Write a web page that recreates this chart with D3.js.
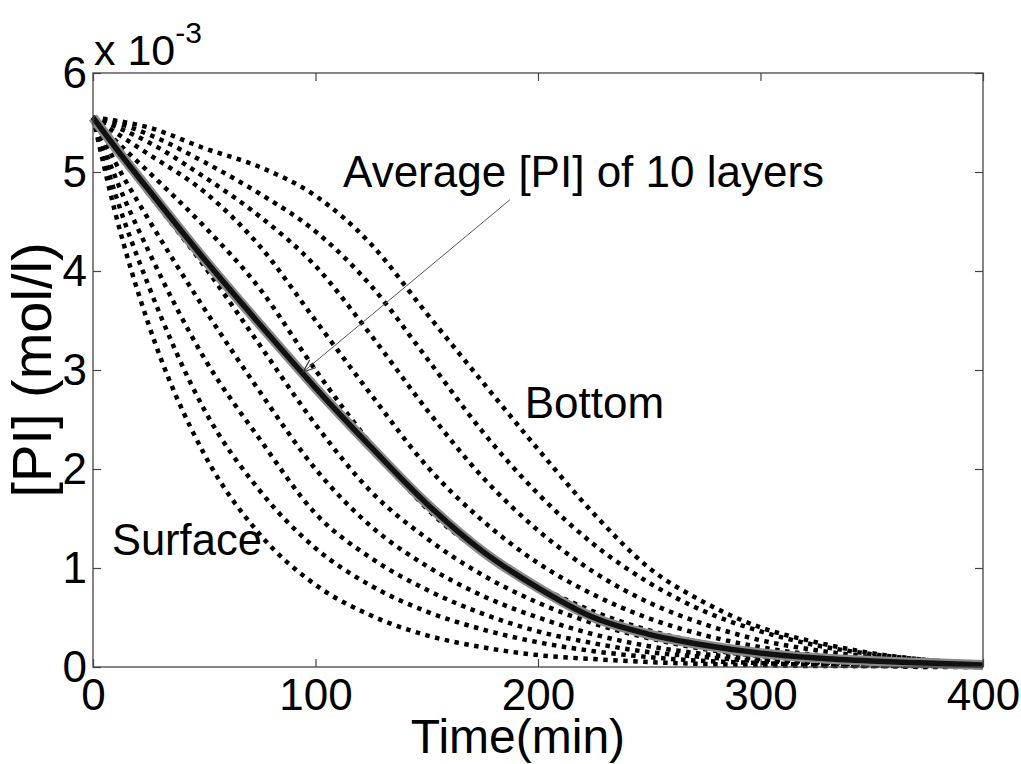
<!DOCTYPE html>
<html>
<head>
<meta charset="utf-8">
<script src="https://cdn.jsdelivr.net/npm/d3@7"></script>
<style>
  body { margin: 0; background: #fff; overflow: hidden; }
  text { font-family: "Liberation Sans", Arial, sans-serif; fill: #000; }
</style>
</head>
<body>
<div id="my_dataviz"></div>
<script>
// time points (min) and [PI] values in units of 10^-3 mol/l
var times = [0, 10, 25, 50, 75, 100, 125, 150, 175, 200, 225, 250, 275, 300, 325, 350, 375, 400];

var layer1  = [5.55, 4.59, 3.46, 2.15, 1.34, 0.83, 0.52, 0.32, 0.20, 0.12, 0.08, 0.05, 0.03, 0.02, 0.01, 0.01, 0.00, 0.00];
var layer2  = [5.55, 4.78, 3.85, 2.60, 1.78, 1.20, 0.82, 0.56, 0.38, 0.25, 0.16, 0.10, 0.06, 0.04, 0.02, 0.01, 0.01, 0.00];
var layer3  = [5.55, 4.95, 4.20, 3.12, 2.30, 1.55, 1.10, 0.78, 0.54, 0.36, 0.24, 0.15, 0.10, 0.06, 0.04, 0.02, 0.01, 0.01];
var layer4  = [5.55, 5.10, 4.52, 3.62, 2.78, 2.00, 1.42, 1.02, 0.72, 0.50, 0.33, 0.21, 0.13, 0.08, 0.05, 0.03, 0.02, 0.01];
var layer5  = [5.55, 5.22, 4.78, 4.05, 3.25, 2.45, 1.77, 1.30, 0.93, 0.65, 0.44, 0.29, 0.18, 0.11, 0.07, 0.04, 0.02, 0.01];
var layer6  = [5.55, 5.32, 5.00, 4.45, 3.82, 3.00, 2.25, 1.60, 1.15, 0.82, 0.56, 0.37, 0.24, 0.15, 0.09, 0.05, 0.03, 0.02];
var layer7  = [5.55, 5.40, 5.18, 4.80, 4.25, 3.50, 2.75, 2.03, 1.48, 1.05, 0.73, 0.49, 0.32, 0.20, 0.12, 0.07, 0.04, 0.02];
var layer8  = [5.55, 5.46, 5.30, 4.95, 4.55, 4.05, 3.35, 2.60, 1.92, 1.38, 0.96, 0.65, 0.43, 0.27, 0.17, 0.10, 0.05, 0.03];
var layer9  = [5.55, 5.50, 5.38, 5.10, 4.78, 4.40, 3.85, 3.12, 2.38, 1.75, 1.24, 0.85, 0.56, 0.36, 0.22, 0.13, 0.07, 0.03];
var layer10 = [5.55, 5.52, 5.45, 5.24, 5.05, 4.76, 4.27, 3.57, 2.88, 2.20, 1.55, 1.00, 0.65, 0.40, 0.25, 0.14, 0.07, 0.03];
var average = [5.55, 5.25, 4.82, 4.12, 3.46, 2.82, 2.22, 1.65, 1.17, 0.80, 0.50, 0.33, 0.22, 0.14, 0.09, 0.06, 0.04, 0.02];

var layers = [layer1, layer2, layer3, layer4, layer5, layer6, layer7, layer8, layer9, layer10];

var xTicks = [0, 100, 200, 300, 400];
var yTicks = [0, 1, 2, 3, 4, 5, 6];

var margin = {
  top: 73,
  right: 38,
  bottom: 97,
  left: 93
},
width = 1021 - margin.left - margin.right,
height = 764 - margin.top - margin.bottom;

var root = d3.select("#my_dataviz")
  .append("svg")
  .attr("width", width + margin.left + margin.right)
  .attr("height", height + margin.top + margin.bottom);

var svg = root.append("g")
  .attr("transform", "translate(" + margin.left + "," + margin.top + ")");

var x = d3.scaleLinear().domain([0, 400]).range([0, width]);
var y = d3.scaleLinear().domain([0, 6]).range([height, 0]);

var line = d3.line()
  .x(function (d, i) { return x(times[i]); })
  .y(function (d) { return y(d); })
  .curve(d3.curveMonotoneX);

// dotted layer curves
svg.append("g")
  .selectAll("path")
  .data(layers)
  .enter().append("path")
  .attr("d", line)
  .attr("fill", "none")
  .attr("stroke", "#000")
  .attr("stroke-width", 4.5)
  .attr("stroke-dasharray", "4.5,5.5");

// average curve, thick with grey halo
svg.append("path")
  .attr("d", line(average))
  .attr("fill", "none")
  .attr("stroke", "#8a8a8a")
  .attr("stroke-width", 10);
svg.append("path")
  .attr("d", line(average))
  .attr("fill", "none")
  .attr("stroke", "#111")
  .attr("stroke-width", 5.5);

// axes box with inward ticks
var fontTick = "44px";

svg.append("g")
  .attr("transform", "translate(0," + height + ")")
  .call(d3.axisBottom(x).tickValues(xTicks).tickSizeInner(-8).tickSizeOuter(0).tickPadding(12))
  .call(function (g) {
    g.selectAll("text").style("font-size", fontTick).style("font-family", "Liberation Sans, Arial, sans-serif");
  });
svg.append("g")
  .call(d3.axisTop(x).tickValues(xTicks).tickSizeInner(-8).tickSizeOuter(0).tickFormat(""));
svg.append("g")
  .call(d3.axisLeft(y).tickValues(yTicks).tickSizeInner(-8).tickSizeOuter(0).tickPadding(6).tickFormat(d3.format("d")))
  .call(function (g) {
    g.selectAll("text").style("font-size", fontTick).style("font-family", "Liberation Sans, Arial, sans-serif");
  });
svg.append("g")
  .attr("transform", "translate(" + width + ",0)")
  .call(d3.axisRight(y).tickValues(yTicks).tickSizeInner(-8).tickSizeOuter(0).tickFormat(""));

svg.selectAll(".domain").remove();
svg.selectAll(".tick line").attr("stroke", "#444").attr("stroke-width", 1.2);

svg.append("rect")
  .attr("width", width)
  .attr("height", height)
  .attr("fill", "none")
  .attr("stroke", "#444")
  .attr("stroke-width", 1.3);

// exponent label
var expo = svg.append("text")
  .attr("x", 1)
  .attr("y", -8)
  .style("font-size", "43px");
expo.append("tspan").text("x 10");
expo.append("tspan")
  .attr("dy", -22)
  .style("font-size", "30px")
  .text("-3");

// axis titles
svg.append("text")
  .attr("x", x(191))
  .attr("y", height + 86)
  .style("text-anchor", "middle")
  .style("font-size", "48px")
  .text("Time(min)");

svg.append("text")
  .attr("transform", "rotate(-90)")
  .attr("x", -height / 2)
  .attr("y", -42)
  .style("text-anchor", "middle")
  .style("font-size", "56px")
  .text("[PI] (mol/l)");

// annotations
svg.append("text")
  .attr("x", x(8.5))
  .attr("y", y(1.13))
  .style("font-size", "43.5px")
  .text("Surface");

svg.append("text")
  .attr("x", x(194))
  .attr("y", y(2.52))
  .style("font-size", "44px")
  .text("Bottom");

svg.append("text")
  .attr("x", x(112.4))
  .attr("y", y(4.85))
  .style("font-size", "44px")
  .text("Average [PI] of 10 layers");

svg.append("defs").append("marker")
  .attr("id", "arrow")
  .attr("markerUnits", "userSpaceOnUse")
  .attr("viewBox", "0 -6 14 12")
  .attr("refX", 13)
  .attr("refY", 0)
  .attr("markerWidth", 14)
  .attr("markerHeight", 12)
  .attr("orient", "auto")
  .append("path")
  .attr("d", "M0,-5L13,0L0,5")
  .attr("fill", "none")
  .attr("stroke", "#333")
  .attr("stroke-width", 1.2);

svg.append("line")
  .attr("x1", x(187.4))
  .attr("y1", y(4.72))
  .attr("x2", x(94.4))
  .attr("y2", y(2.98))
  .attr("stroke", "#555")
  .attr("stroke-width", 1)
  .attr("marker-end", "url(#arrow)");
</script>
</body>
</html>
